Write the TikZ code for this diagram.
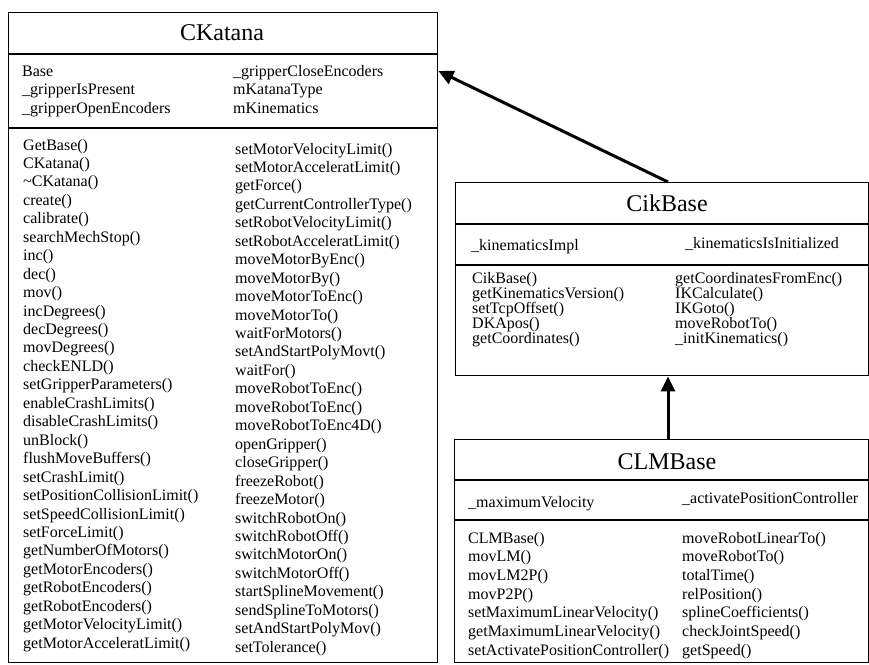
\documentclass[tikz,border=0pt]{standalone}
\usepackage{fontspec}
\setmainfont{Liberation Serif}
\usetikzlibrary{arrows.meta}
\begin{document}
\begin{tikzpicture}[x=1pt,y=-1pt,
  box/.style={draw=black,line width=1.4pt,rectangle,inner sep=0pt,anchor=north west},
  sep/.style={draw=black,line width=1.4pt},
  ttl/.style={font=\fontsize{24}{28}\selectfont,anchor=base,inner sep=0pt},
  txt/.style={font=\fontsize{16}{18}\selectfont,anchor=base west,inner sep=0pt},
  inh/.style={line width=3pt,-{Triangle[length=15pt,width=14pt]}}]
\useasboundingbox[fill=white] (0,0) rectangle (869,664);

% ---------- CKatana ----------
\node[box,minimum width=429pt,minimum height=650pt] (ck) at (8,12) {};
\coordinate (ckA) at (0,54);
\coordinate (ckB) at (0,128);
\draw[sep] (ck.west |- ckA) -- (ck.east |- ckA);
\draw[sep] (ck.west |- ckB) -- (ck.east |- ckB);
\node[ttl] (ckt) at (222,40) {CKatana};
\foreach \t [count=\i] in {Base, \_gripperIsPresent, \_gripperOpenEncoders}
  \node[txt] (cka\i) at (22,{76+18.5*(\i-1)}) {\t};
\foreach \t [count=\i] in {\_gripperCloseEncoders, mKatanaType, mKinematics}
  \node[txt] (ckb\i) at (233,{76+18.5*(\i-1)}) {\t};
\foreach \t [count=\i] in {GetBase(), CKatana(), \textasciitilde CKatana(), create(), calibrate(),
  searchMechStop(), inc(), dec(), mov(), incDegrees(), decDegrees(), movDegrees(), checkENLD(),
  setGripperParameters(), enableCrashLimits(), disableCrashLimits(), unBlock(), flushMoveBuffers(),
  setCrashLimit(), setPositionCollisionLimit(), setSpeedCollisionLimit(), setForceLimit(),
  getNumberOfMotors(), getMotorEncoders(), getRobotEncoders(), getRobotEncoders(),
  getMotorVelocityLimit(), getMotorAcceleratLimit()}
  \node[txt] (ckm\i) at (23,{150+18.45*(\i-1)}) {\t};
\foreach \t [count=\i] in {setMotorVelocityLimit(), setMotorAcceleratLimit(), getForce(),
  getCurrentControllerType(), setRobotVelocityLimit(), setRobotAcceleratLimit(), moveMotorByEnc(),
  moveMotorBy(), moveMotorToEnc(), moveMotorTo(), waitForMotors(), setAndStartPolyMovt(), waitFor(),
  moveRobotToEnc(), moveRobotToEnc(), moveRobotToEnc4D(), openGripper(), closeGripper(),
  freezeRobot(), freezeMotor(), switchRobotOn(), switchRobotOff(), switchMotorOn(), switchMotorOff(),
  startSplineMovement(), sendSplineToMotors(), setAndStartPolyMov(), setTolerance()}
  \node[txt] (ckn\i) at (235,{154+18.45*(\i-1)}) {\t};

% ---------- CikBase ----------
\node[box,minimum width=412.5pt,minimum height=193pt] (cik) at (455,182) {};
\coordinate (cikA) at (0,224);
\coordinate (cikB) at (0,265);
\draw[sep] (cik.west |- cikA) -- (cik.east |- cikA);
\draw[sep] (cik.west |- cikB) -- (cik.east |- cikB);
\node[ttl] (cikt) at (667,211) {CikBase};
\node[txt] (cika1) at (471,250) {\_kinematicsImpl};
\node[txt] (cikb1) at (685,248) {\_kinematicsIsInitialized};
\foreach \t [count=\i] in {CikBase(), getKinematicsVersion(), setTcpOffset(), DKApos(), getCoordinates()}
  \node[txt] (cikm\i) at (472,{283+15*(\i-1)}) {\t};
\foreach \t [count=\i] in {getCoordinatesFromEnc(), IKCalculate(), IKGoto(), moveRobotTo(), \_initKinematics()}
  \node[txt] (cikn\i) at (675,{283+15*(\i-1)}) {\t};

% ---------- CLMBase ----------
\node[box,minimum width=413.5pt,minimum height=223pt] (clm) at (454,439) {};
\coordinate (clmA) at (0,480);
\coordinate (clmB) at (0,520);
\draw[sep] (clm.west |- clmA) -- (clm.east |- clmA);
\draw[sep] (clm.west |- clmB) -- (clm.east |- clmB);
\node[ttl] (clmt) at (667,469) {CLMBase};
\node[txt] (clma1) at (468,507) {\_maximumVelocity};
\node[txt] (clmb1) at (682,503) {\_activatePositionController};
\foreach \t [count=\i] in {CLMBase(), movLM(), movLM2P(), movP2P(), setMaximumLinearVelocity(),
  getMaximumLinearVelocity(), setActivatePositionController()}
  \node[txt] (clmm\i) at (468,{543+18.7*(\i-1)}) {\t};
\foreach \t [count=\i] in {moveRobotLinearTo(), moveRobotTo(), totalTime(), relPosition(),
  splineCoefficients(), checkJointSpeed(), getSpeed()}
  \node[txt] (clmn\i) at (682,{543+18.7*(\i-1)}) {\t};

% ---------- inheritance arrows ----------
\coordinate (ax) at (668,0);
\coordinate (ay) at (0,71);
\draw[inh] (cik.north -| ax) -- (ck.east |- ay);
\draw[inh] (clm.north -| ax) -- (cik.south -| ax);
\end{tikzpicture}
\end{document}
